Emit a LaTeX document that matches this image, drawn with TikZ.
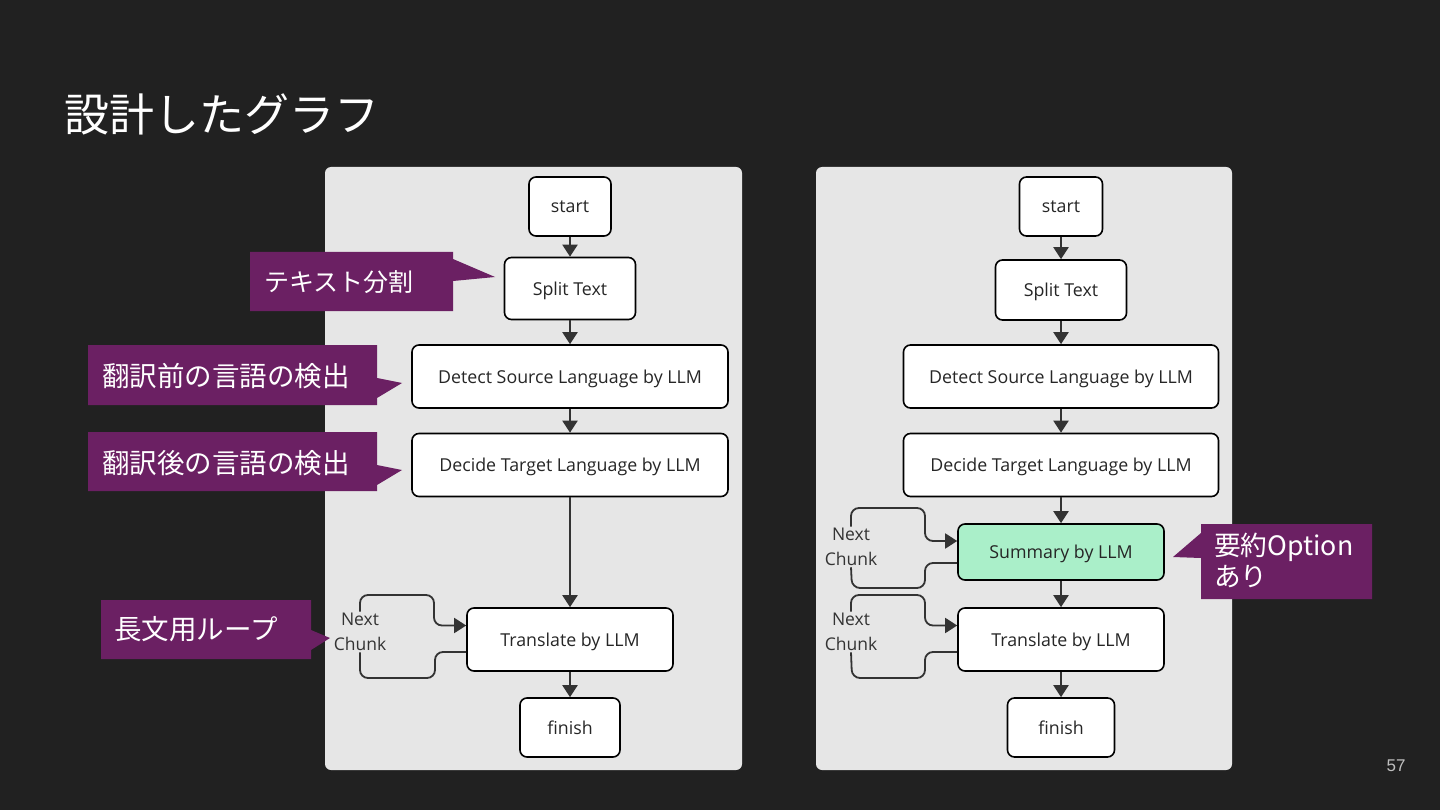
\documentclass[tikz,border=0pt]{standalone}
\usepackage{fontspec}
\setmainfont{Open Sans}
\newfontfamily\jpfont{Noto Sans CJK JP}
\newfontfamily\numfont{Liberation Sans}
\usetikzlibrary{arrows.meta}
\definecolor{bg}{HTML}{212121}
\definecolor{panel}{HTML}{E6E6E6}
\definecolor{callout}{HTML}{6B2063}
\definecolor{mint}{HTML}{AAEFC9}
\definecolor{edge}{HTML}{333333}
\begin{document}
\begin{tikzpicture}[x=1pt,y=-1pt,
  box/.style={draw=black, line width=1.6pt, rounded corners=7pt, fill=white,
    font=\fontsize{17.8}{21}\selectfont, inner sep=0pt, text=black!85,
    text height=17pt, text depth=4pt},
  flow/.style={draw=edge, line width=2pt, -{Triangle[length=12pt,width=15pt]}},
  loopline/.style={draw=edge, line width=1.8pt, rounded corners=8pt},
  looparrow/.style={loopline, -{Triangle[length=12pt,width=15pt]}},
  chunk/.style={align=center, font=\fontsize{17.5}{25.5}\selectfont, text=black!80, inner sep=1pt},
  calltext/.style={font=\jpfont\fontsize{27.5}{31}\selectfont, text=white, anchor=west, inner sep=0pt, align=left},
  callbg/.style={fill=callout}]
\useasboundingbox (0,0) rectangle (1440,810);
\fill[bg] (0,0) rectangle (1440,810);

% title and page number
\node[font=\jpfont\fontsize{45}{50}\selectfont, text=white, anchor=west, inner sep=0pt] (title) at (64,114) {設計したグラフ};
\node[font=\numfont\fontsize{17}{20}\selectfont, text=white!75!black, inner sep=0pt] (pnum) at (1396,766) {57};

% panels
\fill[panel, rounded corners=6pt] (325,167) rectangle (742,770);
\fill[panel, rounded corners=6pt] (816,167) rectangle (1232,770);

% ===== left graph =====
\node[box, minimum width=82pt, minimum height=59pt] (ls) at (570,206.5) {start};
\node[box, minimum width=131pt, minimum height=62pt] (lsp) at (570,288.5) {Split Text};
\node[box, minimum width=316pt, minimum height=63pt] (lds) at (570,376.5) {Detect Source Language by LLM};
\node[box, minimum width=316pt, minimum height=63pt] (ldt) at (570,465) {Decide Target Language by LLM};
\node[box, minimum width=206pt, minimum height=63pt] (ltr) at (570,639.5) {Translate by LLM};
\node[box, minimum width=100pt, minimum height=59pt] (lfi) at (570,727.5) {finish};

\draw[flow] (ls) -- (lsp);
\draw[flow] (lsp) -- (lds);
\draw[flow] (lds) -- (ldt);
\draw[flow] (ldt) -- (ltr);
\draw[flow] (ltr) -- (lfi);

\node[chunk] (lnc) at (360,632) {Next\\Chunk};
\draw[loopline] ([yshift=-12.5pt]ltr.west) -- (435,652) |- (360,678) -- (lnc.south);
\draw[looparrow] (lnc.north) |- (434,595) |- ([yshift=14pt]ltr.west);

% ===== right graph =====
\node[box, minimum width=83pt, minimum height=59pt] (rs) at (1061,206.5) {start};
\node[box, minimum width=131pt, minimum height=60pt] (rsp) at (1061,290) {Split Text};
\node[box, minimum width=315pt, minimum height=63pt] (rds) at (1061,376.5) {Detect Source Language by LLM};
\node[box, minimum width=315pt, minimum height=63pt] (rdt) at (1061,465) {Decide Target Language by LLM};
\node[box, fill=mint, minimum width=206pt, minimum height=56pt] (rsu) at (1061,552) {Summary by LLM};
\node[box, minimum width=206pt, minimum height=63pt] (rtr) at (1061,639.5) {Translate by LLM};
\node[box, minimum width=107pt, minimum height=59pt] (rfi) at (1061,727.5) {finish};

\draw[flow] (rs) -- (rsp);
\draw[flow] (rsp) -- (rds);
\draw[flow] (rds) -- (rdt);
\draw[flow] (rdt) -- (rsu);
\draw[flow] (rsu) -- (rtr);
\draw[flow] (rtr) -- (rfi);

\node[chunk] (rnc1) at (851,547) {Next\\Chunk};
\draw[loopline] ([yshift=-11pt]rsu.west) -- (925,563) |- (852,588) -- (rnc1.south);
\draw[looparrow] (rnc1.north) |- (925,508) |- ([yshift=11pt]rsu.west);

\node[chunk] (rnc2) at (851,632) {Next\\Chunk};
\draw[loopline] ([yshift=-12.5pt]rtr.west) -- (925,652) |- (852,678) -- (rnc2.south);
\draw[looparrow] (rnc2.north) |- (925,595) |- ([yshift=14pt]rtr.west);

% ===== callouts =====
\fill[callbg] (250,252) -- (453,252) -- (453,259) -- (495,277) -- (453,281) -- (453,311) -- (250,311) -- cycle;
\node[calltext, font=\jpfont\fontsize{25}{31}\selectfont] (c1) at (264,282) {テキスト分割};

\fill[callbg] (88,345) -- (377,345) -- (377,378) -- (402,383) -- (377,398) -- (377,405) -- (88,405) -- cycle;
\node[calltext] (c2) at (102,376) {翻訳前の言語の検出};

\fill[callbg] (88,432) -- (377,432) -- (377,465) -- (402,470) -- (377,485) -- (377,491) -- (88,491) -- cycle;
\node[calltext] (c3) at (102,463) {翻訳後の言語の検出};

\fill[callbg] (101,600) -- (311,600) -- (311,630) -- (330,638) -- (311,650) -- (311,659) -- (101,659) -- cycle;
\node[calltext] (c4) at (114,629) {長文用ループ};

\fill[callbg] (1201,524) -- (1372,524) -- (1372,599) -- (1201,599) -- (1201,558) -- (1173,557) -- (1201,533) -- cycle;
\node[calltext, font=\jpfont\fontsize{26.7}{31}\selectfont, anchor=north west] (c5) at (1214,533) {要約Option\\あり};
\end{tikzpicture}
\end{document}
